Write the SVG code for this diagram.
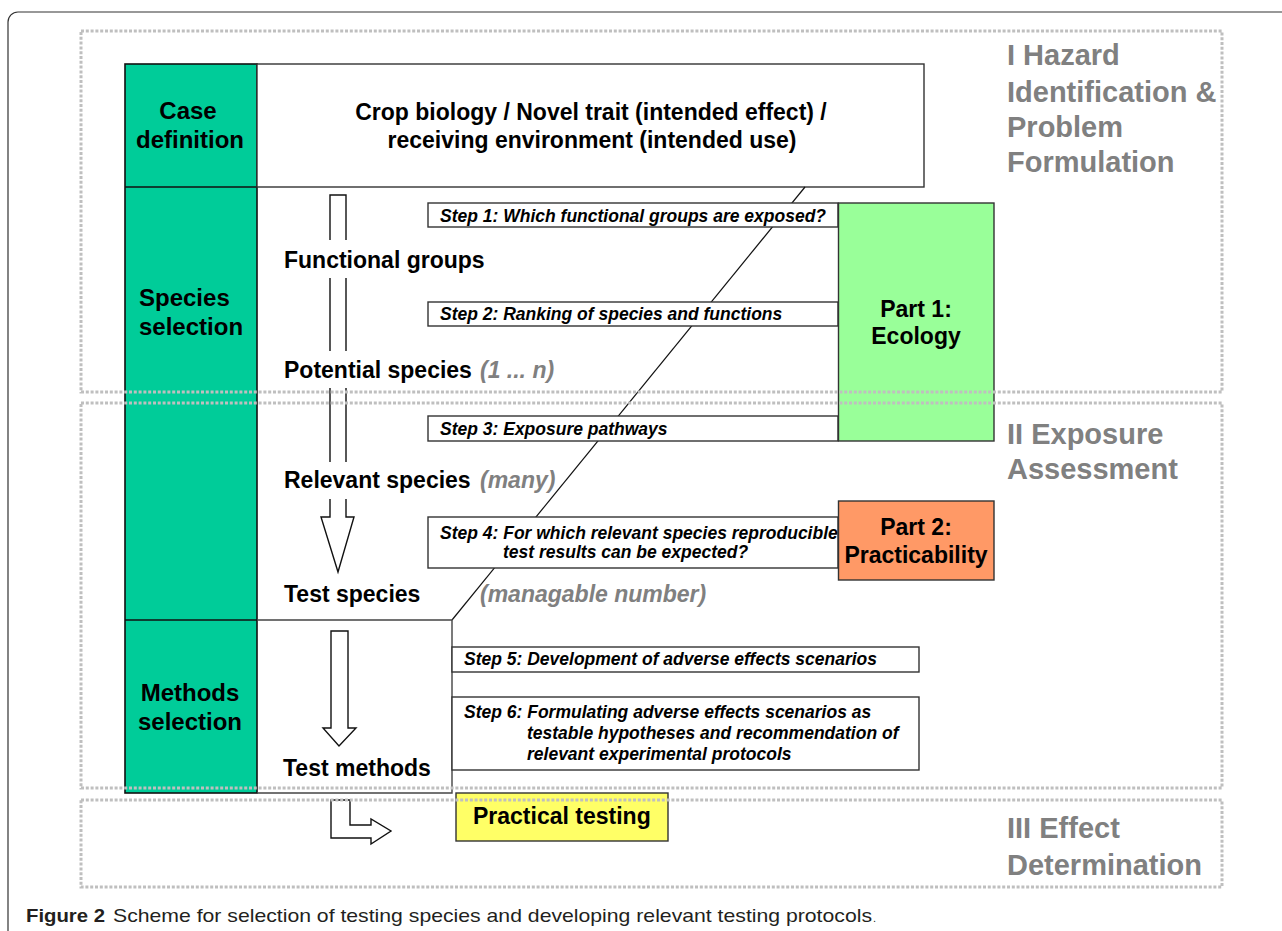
<svg xmlns="http://www.w3.org/2000/svg" width="1282" height="931" viewBox="0 0 1282 931">
<style>
text{font-family:"Liberation Sans",Arial,sans-serif;font-weight:bold;fill:#000}
.lab{font-size:24px}
.main{font-size:23px}
.grey{font-size:23px;font-style:italic;fill:#808080}
.phase{font-size:29px;fill:#808080}
.step{font-size:17.5px;font-style:italic}
.box{fill:#fff;stroke:#333;stroke-width:1.4}
.dot{fill:none;stroke:#bfbfbf;stroke-width:3;stroke-dasharray:3 1.8}
.arrow{fill:#fff;stroke:#111;stroke-width:1.4}
.cap{font-size:19px;fill:#231f20}
</style>
<rect x="8" y="12" width="1300" height="950" rx="10" ry="10" fill="#fff" stroke="#333" stroke-width="1.2"/>

<g id="case-column">
<rect x="125" y="64" width="132" height="729" fill="#00cc99" stroke="#111" stroke-width="1.6"/>
<line x1="125" y1="187" x2="257" y2="187" stroke="#111" stroke-width="1.6"/>
<line x1="125" y1="620" x2="257" y2="620" stroke="#111" stroke-width="1.6"/>
<text class="lab" x="188" y="119" text-anchor="middle">Case</text>
<text class="lab" x="190" y="148" text-anchor="middle">definition</text>
<text class="lab" x="139" y="306">Species</text>
<text class="lab" x="139" y="335">selection</text>
<text class="lab" x="190" y="701" text-anchor="middle">Methods</text>
<text class="lab" x="190" y="730" text-anchor="middle">selection</text>
</g>

<g id="case-box">
<rect class="box" x="257" y="64" width="667" height="123"/>
<text class="main" x="591" y="120" text-anchor="middle">Crop biology / Novel trait (intended effect) /</text>
<text class="main" x="592" y="148" text-anchor="middle">receiving environment (intended use)</text>
</g>

<g id="connectors">
<line x1="805" y1="187" x2="452" y2="620" stroke="#111" stroke-width="1.2"/>
<polygon class="arrow" points="330,195 346,195 346,517 354,517 338,572 321,517 330,517"/>
<rect x="322" y="240" width="32" height="38" fill="#fff"/>
<rect x="322" y="351" width="32" height="37" fill="#fff"/>
<rect x="322" y="462" width="32" height="37" fill="#fff"/>
<polygon class="arrow" points="331,631 348,631 348,728 356,728 339,746 323,728 331,728"/>
<polygon class="arrow" points="331,800 350,800 350,825 371,825 371,819 391,831 371,844 371,838 331,838"/>
</g>

<g id="species-labels">
<text class="main" x="284" y="268">Functional groups</text>
<text class="main" x="284" y="378">Potential species</text>
<text class="grey" x="480" y="378">(1 ... n)</text>
<text class="main" x="284" y="488">Relevant species</text>
<text class="grey" x="480" y="488">(many)</text>
<text class="main" x="284" y="602">Test species</text>
<text class="grey" x="480" y="602">(managable number)</text>
</g>

<g id="methods-box">
<path d="M257,620 H452 V793 H257" fill="none" stroke="#444" stroke-width="1.4"/>
<text class="main" x="283" y="776">Test methods</text>
</g>

<g id="step1"><rect class="box" x="428" y="203" width="410" height="24"/><text class="step" x="440" y="221.5">Step 1: Which functional groups are exposed?</text></g>
<g id="step2"><rect class="box" x="428" y="302" width="410" height="24"/><text class="step" x="440" y="319.5">Step 2: Ranking of species and functions</text></g>
<g id="step3"><rect class="box" x="428" y="416" width="410" height="25"/><text class="step" x="440" y="435">Step 3: Exposure pathways</text></g>
<g id="step4"><rect class="box" x="428" y="517" width="410" height="51"/><text class="step" x="440" y="539">Step 4: For which relevant species reproducible</text><text class="step" x="503" y="558">test results can be expected?</text></g>
<g id="step5"><rect class="box" x="452" y="647" width="467" height="25"/><text class="step" x="464" y="665">Step 5: Development of adverse effects scenarios</text></g>
<g id="step6"><rect class="box" x="452" y="697" width="467" height="73"/><text class="step" x="464" y="718">Step 6: Formulating adverse effects scenarios as</text><text class="step" x="527" y="739">testable hypotheses and recommendation of</text><text class="step" x="527" y="760">relevant experimental protocols</text></g>

<g id="part1"><rect x="838.5" y="203" width="155.5" height="238" fill="#99ff99" stroke="#333" stroke-width="1.4"/><text class="main" x="916" y="317" text-anchor="middle">Part 1:</text><text class="main" x="916" y="344" text-anchor="middle">Ecology</text></g>
<g id="part2"><rect x="838.5" y="501" width="155.5" height="79" fill="#ff9966" stroke="#333" stroke-width="1.4"/><text class="main" x="916" y="535" text-anchor="middle">Part 2:</text><text class="main" x="916" y="563" text-anchor="middle">Practicability</text></g>
<g id="practical-testing"><rect x="456" y="793" width="212" height="48" fill="#ffff66" stroke="#333" stroke-width="1.4"/><text class="main" x="473" y="824">Practical testing</text></g>

<g id="phases">
<rect class="dot" x="81" y="31" width="1141" height="361"/>
<rect class="dot" x="81" y="403" width="1141" height="385"/>
<rect class="dot" x="81" y="800" width="1141" height="87"/>
<text class="phase" x="1007" y="65">I Hazard</text>
<text class="phase" x="1007" y="101.5">Identification &amp;</text>
<text class="phase" x="1007" y="136.5">Problem</text>
<text class="phase" x="1007" y="171.5">Formulation</text>
<text class="phase" x="1007" y="444">II Exposure</text>
<text class="phase" x="1007" y="479">Assessment</text>
<text class="phase" x="1007" y="838">III Effect</text>
<text class="phase" x="1007" y="875">Determination</text>
</g>

<g id="caption">
<text class="cap" x="26" y="921.5" textLength="79" lengthAdjust="spacingAndGlyphs">Figure 2</text>
<text class="cap" x="113" y="921.5" style="font-weight:normal" textLength="759" lengthAdjust="spacingAndGlyphs">Scheme for selection of testing species and developing relevant testing protocols</text>
<text class="cap" x="873" y="921.5" style="font-weight:normal;font-size:11px">.</text>
</g>
</svg>
